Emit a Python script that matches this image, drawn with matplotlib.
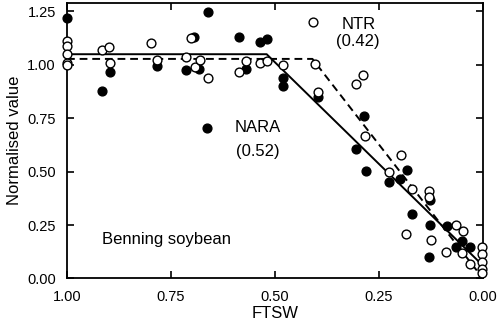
import numpy as np
import matplotlib.pyplot as plt

plt.rcParams['font.family'] = ['Liberation Sans', 'DejaVu Sans']

# NARA (filled circles)
nara_x = [1.00, 0.917, 0.897, 0.783, 0.713, 0.683, 0.660, 0.664, 0.695, 0.587,
          0.569, 0.536, 0.519, 0.481, 0.481, 0.396, 0.286, 0.305, 0.282, 0.225,
          0.200, 0.182, 0.171, 0.127, 0.127, 0.130, 0.087, 0.066, 0.051, 0.031]
nara_y = [1.22, 0.878, 0.966, 0.994, 0.977, 0.982, 1.247, 0.705, 1.132, 1.13,
          0.982, 1.107, 1.122, 0.940, 0.900, 0.850, 0.759, 0.605, 0.502, 0.452,
          0.468, 0.507, 0.303, 0.367, 0.249, 0.102, 0.244, 0.149, 0.177, 0.148]

# NTR (open circles)
ntr_x = [1.00, 1.00, 1.00, 1.00, 1.00, 0.917, 0.899, 0.897, 0.797, 0.783,
         0.713, 0.701, 0.692, 0.681, 0.660, 0.587, 0.569, 0.536, 0.519, 0.481,
         0.408, 0.403, 0.396, 0.305, 0.289, 0.284, 0.198, 0.225, 0.171, 0.131,
         0.131, 0.184, 0.126, 0.089, 0.064, 0.047, 0.051, 0.031, 0.002, 0.002,
         0.002, 0.003, 0.002]
ntr_y = [1.11, 1.09, 1.05, 1.01, 1.00, 1.071, 1.086, 1.009, 1.104, 1.024,
         1.037, 1.125, 0.990, 1.024, 0.938, 0.966, 1.018, 1.008, 1.018, 0.998,
         1.203, 1.006, 0.873, 0.912, 0.951, 0.666, 0.577, 0.499, 0.417, 0.409,
         0.382, 0.208, 0.178, 0.124, 0.250, 0.222, 0.120, 0.070, 0.148, 0.115,
         0.079, 0.045, 0.025]

# fitted segmented lines
nara_fit_x = [1.0, 0.52, 0.0]
nara_fit_y = [1.05, 1.05, 0.06]
ntr_fit_x = [1.0, 0.41, 0.0]
ntr_fit_y = [1.028, 1.028, 0.0]

fig = plt.figure(figsize=(5.0, 3.28), dpi=100)
ax = fig.add_axes([0.134, 0.151, 0.832, 0.84])

ax.plot(nara_fit_x, nara_fit_y, color='black', lw=1.4, zorder=2)
ax.plot(ntr_fit_x, ntr_fit_y, color='black', lw=1.4, ls=(0, (4, 2.5)), zorder=2)

ax.scatter(nara_x, nara_y, s=40, facecolor='black', edgecolor='black',
           linewidth=1.0, clip_on=False, zorder=3)
ax.scatter(ntr_x, ntr_y, s=40, facecolor='white', edgecolor='black',
           linewidth=1.0, clip_on=False, zorder=4)

ax.text(0.30, 1.19, 'NTR', ha='center', va='center', fontsize=12)
ax.text(0.30, 1.11, '(0.42)', ha='center', va='center', fontsize=12)
ax.text(0.541, 0.706, 'NARA', ha='center', va='center', fontsize=12)
ax.text(0.541, 0.594, '(0.52)', ha='center', va='center', fontsize=12)
ax.text(0.917, 0.181, 'Benning soybean', ha='left', va='center', fontsize=12)

ax.set_xlim(1.0, 0.0)
ax.set_ylim(0, 1.29)
ax.set_xticks([1.0, 0.75, 0.5, 0.25, 0.0])
ax.set_yticks([0.0, 0.25, 0.5, 0.75, 1.0, 1.25])
ax.xaxis.set_major_formatter(plt.FormatStrFormatter('%.2f'))
ax.yaxis.set_major_formatter(plt.FormatStrFormatter('%.2f'))
ax.tick_params(direction='in', top=True, right=True, length=5, width=1.2,
               labelsize=10.5, pad=8)

for sp in ax.spines.values():
    sp.set_linewidth(1.3)

ax.set_xlabel('FTSW', fontsize=12, labelpad=2)
ax.set_ylabel('Normalised value', fontsize=12, labelpad=4)

fig.savefig('out.png', dpi=100)
